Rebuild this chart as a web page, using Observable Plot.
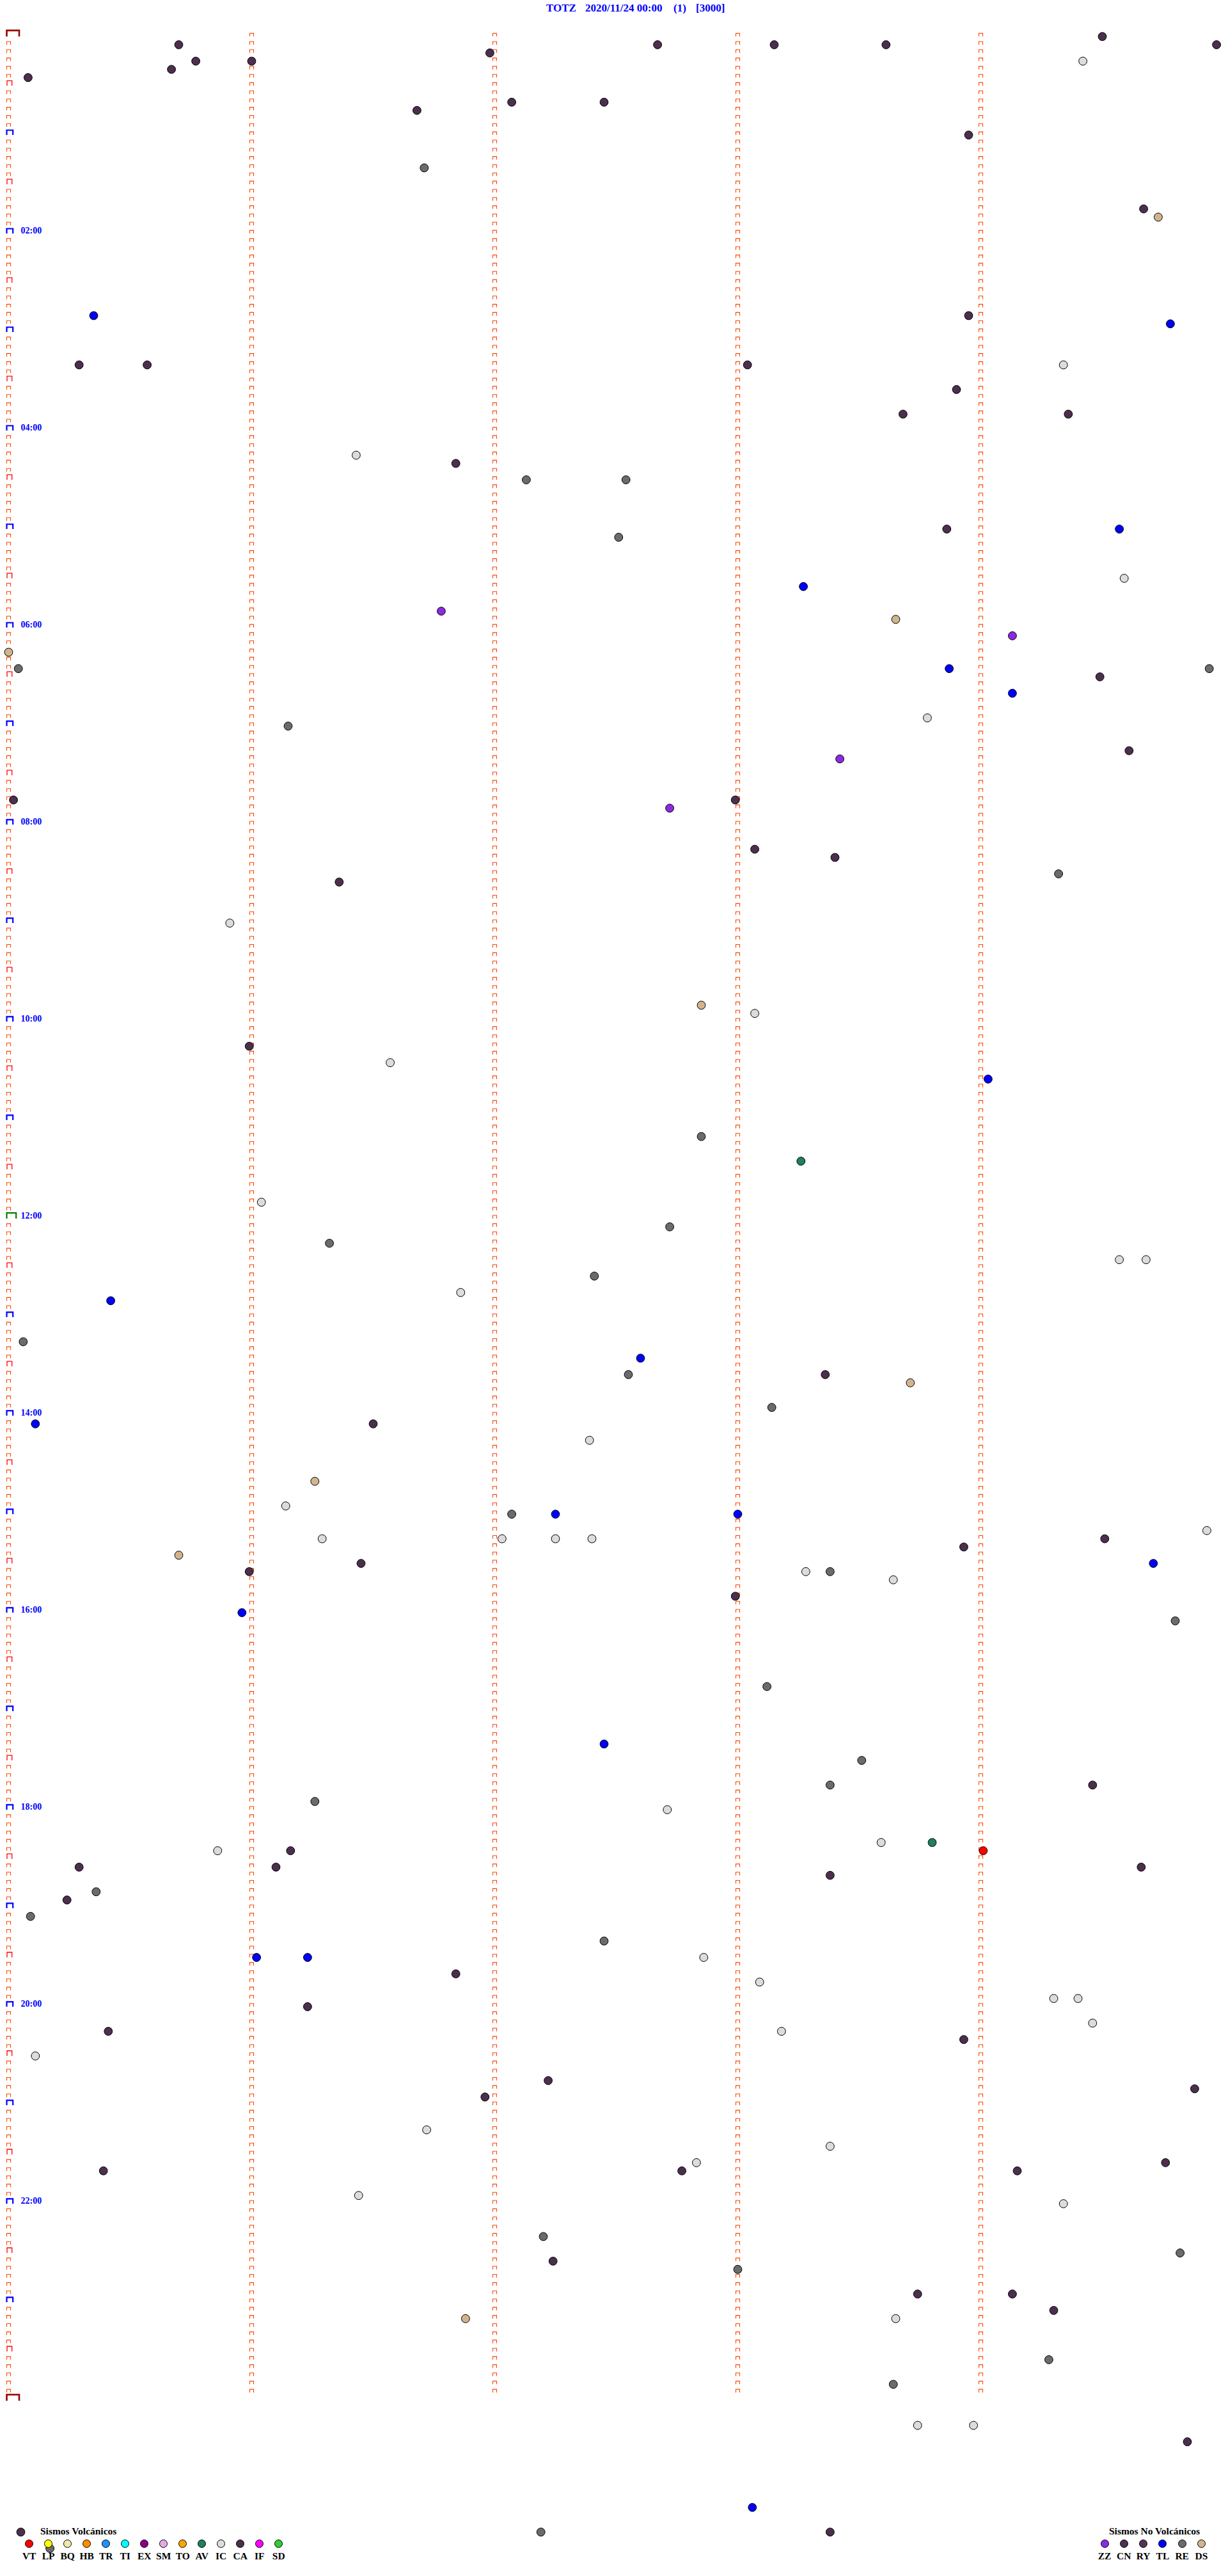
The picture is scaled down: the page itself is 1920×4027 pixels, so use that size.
<!DOCTYPE html>
<html><head><meta charset="utf-8">
<script src="https://cdn.jsdelivr.net/npm/d3@7"></script>
<script src="https://cdn.jsdelivr.net/npm/@observablehq/plot@0.6"></script>
<style>
body{margin:0;background:#fff;}
#wrap{position:relative;width:1920px;height:4027px;overflow:hidden;font-family:"Liberation Serif","Times New Roman",serif;font-weight:bold;}
#chart{position:absolute;left:0;top:0;}
.ttl{position:absolute;top:4px;color:#0000ff;font-size:17px;line-height:17px;white-space:pre;}
.lgT{position:absolute;top:3949px;color:#000;font-size:15.5px;line-height:16px;white-space:pre;}
.lgI{position:absolute;top:3970px;width:30px;text-align:center;color:#000;font-size:15.5px;line-height:16px;}
.lgC{width:11px;height:11px;border:1px solid #000;border-radius:50%;margin:0 auto 5px auto;}
</style></head><body>
<div id="wrap"><div id="chart"></div></div>
<script>
// ---- data ----
const titleParts = ["TOTZ", "2020/11/24 00:00", "(1)", "[3000]"];
const hourLabels = ["02:00","04:00","06:00","08:00","10:00","12:00","14:00","16:00","18:00","20:00","22:00"];
const volcanicCodes  = ["VT","LP","BQ","HB","TR","TI","EX","SM","TO","AV","IC","CA","IF","SD"];
const volcanicColors = ["#ff0000","#ffff00","#eee8aa","#ff8c00","#1e90ff","#00ffff","#8b008b","#e6a8e6","#ffa500","#1f7f5f","#dcdcdc","#4b2f4d","#ff00ff","#32cd32"];
const nonVolcanicCodes  = ["ZZ","CN","RY","TL","RE","DS"];
const nonVolcanicColors = ["#8a2be2","#4b3350","#553355","#0000ff","#6b6b6b","#d2b48c"];
// event times in minutes after 2020/11/24 00:00
const eventTimes = [4.50,5.70,7.67,8.15,8.61,9.97,11.98,15.77,16.00,19.42,20.67,25.08,42.07,42.45,46.68,63.95,81.71,109.67,114.73,
170.35,173.95,179.78,200.29,200.57,203.04,204.34,218.90,233.68,234.36,256.43,261.84,272.13,272.54,303.86,304.57,307.51,334.59,338.27,
351.78,358.65,369.13,375.00,385.04,388.87,389.94,394.49,404.13,418.78,421.15,439.61,443.42,465.02,467.99,472.72,498.07,503.40,514.32,
516.36,540.91,592.85,598.07,615.99,626.57,639.03,672.85,688.26,711.04,727.72,736.32,749.57,749.68,757.41,766.86,770.42,795.06,807.60,
817.55,818.36,823.71,838.14,845.11,846.50,857.39,881.26,896.14,902.07,902.25,903.00,914.93,916.29,917.03,917.25,917.40,919.51,923.93,
925.70,931.45,934.71,935.99,938.28,938.38,943.64,952.99,960.96,969.80,1008.12,1042.45,1053.51,1068.38,1069.46,1076.26,1082.71,1103.59,
1103.80,1105.86,1106.16,1109.01,1115.29,1116.10,1119.66,1123.38,1130.36,1135.24,1145.09,1162.45,1171.02,1171.23,1172.86,1181.84,1188.09,
1199.30,1199.40,1201.23,1214.46,1215.41,1218.18,1223.93,1230.11,1247.22,1254.88,1256.96,1276.72,1288.38,1297.83,1299.76,1300.39,1302.77,
1304.15,1316.44,1324.34,1342.20,1354.82,1357.24,1363.00,1378.74,1379.13,1389.30,1391.88,1393.65,1419.28,1433.64,1458.74,1458.97,1469.85,
1508.06,1520.05,1522.19,1523.38,1530.17];
const eventTypes = ["CA","CA","CA","CA","CA","CA","CA","CA","CA","IC","CA","CA","CA","CA","CA","CA","RE","CA","DS",
"TL","CA","TL","CA","CA","CA","IC","CA","CA","CA","IC","CA","RE","RE","CA","TL","RE","IC","TL",
"ZZ","DS","ZZ","DS","RE","TL","RE","CA","TL","IC","RE","CA","ZZ","CA","CA","ZZ","CA","CA","RE",
"CA","IC","DS","IC","CA","IC","TL","RE","AV","IC","RE","RE","IC","IC","RE","IC","TL","RE","TL",
"RE","CA","DS","RE","TL","CA","IC","DS","IC","RE","TL","TL","IC","IC","IC","IC","IC","CA","CA",
"DS","CA","TL","CA","IC","RE","IC","CA","TL","RE","RE","TL","RE","RE","CA","RE","IC","IC",
"AV","IC","CA","VT","CA","CA","CA","CA","RE","CA","RE","RE","TL","TL","IC","CA","IC",
"IC","IC","CA","IC","CA","IC","CA","IC","CA","CA","CA","IC","IC","IC","CA","CA","CA",
"CA","IC","IC","RE","RE","CA","RE","CA","CA","CA","DS","IC","RE","RE","IC","IC","CA",
"TL","CA","RE","CA","RE"];
const minutesPerRow = 5, rowsPerDay = 288, columns = 5;

// ---- derived tables ----
const colorOf = new Map([...volcanicCodes.map((c,i)=>[c,volcanicColors[i]]), ...nonVolcanicCodes.map((c,i)=>[c,nonVolcanicColors[i]])]);
const events = eventTimes.map((t,i)=>{ const row = Math.floor(t/minutesPerRow + 1e-9); return {row, m: t - row*minutesPerRow, type: eventTypes[i]}; });
const rows = d3.range(rowsPerDay);
const colGlyphs = [];
for (let c = 1; c < columns; c++) for (const r of rows) colGlyphs.push({col:c, row:r});
const leftSmall = rows.filter(r => r % 6 !== 0).map(r => ({col:0,row:r}));
const leftHalf  = rows.filter(r => r % 12 === 6).map(r => ({col:0,row:r}));
const leftHour  = rows.filter(r => r % 12 === 0 && r !== 0 && r !== 144).map(r => ({col:0,row:r}));
const leftNoon  = [{col:0,row:144}];
const leftEnds  = [{col:0,row:0},{col:0,row:rowsPerDay}];
const hourRows  = hourLabels.map((label,i)=>({label, row:(i+1)*24}));

const sym = (l, rgt, h) => ({draw(ctx){ ctx.moveTo(l,0); ctx.lineTo(l,-h); ctx.lineTo(rgt,-h); ctx.lineTo(rgt,0); }});
const symSmall = sym(-3, 3, 5), symHalf = sym(-2.5, 5.2, 8), symHour = sym(-3, 6.7, 7.6),
      symNoon = sym(-3, 11.7, 9), symEnd = sym(-3, 16.5, 9.5);

const rowH = 12.833, y0 = 56.6;
const chart = Plot.plot({
  width: 1920, height: 4027, margin: 0,
  x: {type:"linear", domain:[0, columns], range:[13, 13 + 380*columns], axis:null},
  y: {type:"linear", domain:[0, 300], range:[y0, y0 + 300*rowH], axis:null},
  color: {type:"identity"},
  marks: [
    Plot.dot(colGlyphs, {x:"col", y:"row", symbol:symSmall, fill:"none", stroke:"#ff4500", strokeWidth:1.1}),
    Plot.dot(leftSmall, {x:"col", y:"row", symbol:symSmall, fill:"none", stroke:"#ff4500", strokeWidth:1.1}),
    Plot.dot(leftHalf, {x:"col", y:"row", symbol:symHalf, fill:"none", stroke:"#ff0000", strokeWidth:1.3}),
    Plot.dot(leftHour, {x:"col", y:"row", symbol:symHour, fill:"none", stroke:"#0000ff", strokeWidth:2.2}),
    Plot.dot(leftNoon, {x:"col", y:"row", symbol:symNoon, fill:"none", stroke:"#008000", strokeWidth:2.2}),
    Plot.dot(leftEnds, {x:"col", y:"row", symbol:symEnd, fill:"none", stroke:"#990000", strokeWidth:2.6}),
    Plot.text(hourRows, {x:()=>0, y:"row", text:"label", dx:19, dy:-4.8, textAnchor:"start", fill:"#0000ff",
      fontSize:14, fontWeight:"bold", fontFamily:"Liberation Serif, Times New Roman, serif"}),
    Plot.dot(events, {x:"m", y:"row", r:6.4, fill:d=>colorOf.get(d.type), stroke:"#000", strokeWidth:1})
  ]
});
const wrap = document.getElementById("wrap");
document.getElementById("chart").appendChild(chart);

// title
const titleLeft = [854, 915, 1053, 1088];
titleParts.forEach((p,i)=>{ const s=document.createElement("div"); s.className="ttl"; s.style.left=titleLeft[i]+"px"; s.textContent=p; wrap.appendChild(s); });

// legends
function legend(title, titleX, codes, colors, firstCenter, step){
  const t=document.createElement("div"); t.className="lgT"; t.style.left=titleX+"px"; t.textContent=title; wrap.appendChild(t);
  codes.forEach((c,i)=>{
    const it=document.createElement("div"); it.className="lgI"; it.style.left=(firstCenter + i*step - 15)+"px";
    const dot=document.createElement("div"); dot.className="lgC"; dot.style.background=colors[i];
    it.appendChild(dot); it.appendChild(document.createTextNode(c)); wrap.appendChild(it);
  });
}
legend("Sismos Volcánicos", 63, volcanicCodes, volcanicColors, 45.7, 30);
legend("Sismos No Volcánicos", 1734, nonVolcanicCodes, nonVolcanicColors, 1727, 30.3);
</script>
</body></html>
